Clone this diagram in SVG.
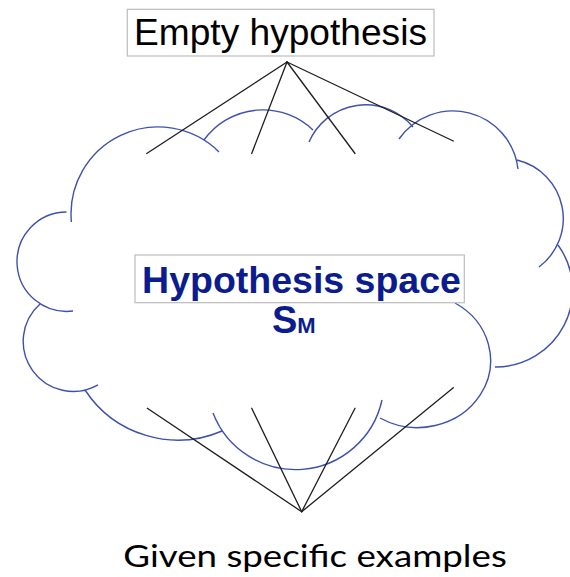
<svg xmlns="http://www.w3.org/2000/svg" width="570" height="577" viewBox="0 0 570 577">
  <style>
    .cloud { fill: none; stroke: #3e50ae; stroke-width: 1.4; }
    .edge { stroke: #1e1e1e; stroke-width: 1.3; fill: none; stroke-linecap: round; }
    .box { fill: #ffffff; stroke: #bdbdbd; stroke-width: 1.2; }
    .title { font-family: "Liberation Sans", Arial, sans-serif; font-size: 37px; fill: #000000; }
    .space { font-family: "Liberation Sans", Arial, sans-serif; font-weight: bold; fill: #0a1c8e; }
    .given { font-family: Lato, "Open Sans", sans-serif; font-size: 31px; fill: #000000; }
  </style>
  <rect x="0" y="0" width="570" height="577" fill="#ffffff"/>

  <g id="hypothesis-space">
    <path class="cloud" d="
      M73,311 A49.7,49.7 0 1 1 66.5,212
      M71.4,222 A87,87 0 0 1 219,151.9
      M204,140 A72.5,72.5 0 0 1 313,130
      M309,142 A61.7,61.7 0 0 1 413,127
      M399,139 A65.6,65.6 0 0 1 518,169
      M517,160 A60.3,60.3 0 0 1 539,267
      M558,245 A76.9,76.9 0 0 1 495,367
      M455,303 A73,67 0 1 1 380,418
      M382,400 A88.5,88.5 0 0 1 213,413
      M222,431 A111.2,111.2 0 0 1 85,390
      M98,384.8 A50,50 0 0 1 40,304"/>
    <rect class="box" x="135" y="255" width="329.3" height="47.7"/>
    <text class="space" x="301.5" y="292.7" font-size="37.5" text-anchor="middle">Hypothesis space</text>
    <text class="space" x="272" y="333.3"><tspan font-size="38">S</tspan><tspan font-size="22">M</tspan></text>
  </g>

  <g id="empty-hypothesis">
    <rect class="box" x="127.3" y="9.3" width="306.7" height="46.7"/>
    <text class="title" x="280.5" y="45" text-anchor="middle" textLength="293" lengthAdjust="spacingAndGlyphs">Empty hypothesis</text>
  </g>

  <g id="given-examples">
    <text class="given" x="123.3" y="566.7" textLength="383.5" lengthAdjust="spacingAndGlyphs">Given specific examples</text>
  </g>

  <g id="connectors">
    <line class="edge" x1="287" y1="62" x2="146.7" y2="153.5"/>
    <line class="edge" x1="287" y1="62" x2="251.7" y2="153.5"/>
    <line class="edge" x1="287" y1="62" x2="355" y2="153.5"/>
    <line class="edge" x1="287" y1="62" x2="453.3" y2="141"/>
    <line class="edge" x1="301.7" y1="511.7" x2="147.3" y2="408.3"/>
    <line class="edge" x1="301.7" y1="511.7" x2="251.7" y2="408.3"/>
    <line class="edge" x1="301.7" y1="511.7" x2="355" y2="408.3"/>
    <line class="edge" x1="301.7" y1="511.7" x2="453.3" y2="387.7"/>
  </g>
</svg>
